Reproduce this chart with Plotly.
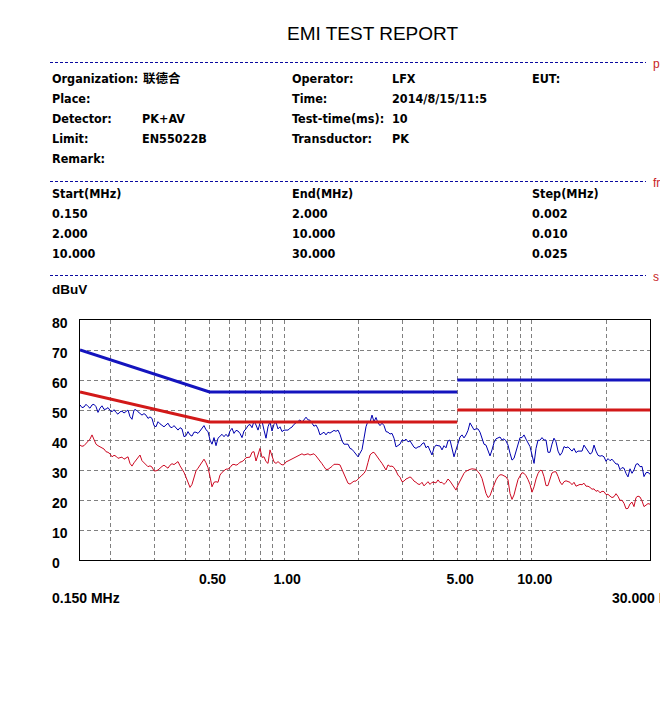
import plotly.graph_objects as go

# ---------------- data ----------------
freq_mhz = [
    0.150, 0.1528, 0.1557, 0.1586, 0.1616, 0.1646, 0.1677, 0.1708, 0.1741, 0.1773,
    0.1806, 0.1840, 0.1875, 0.1910, 0.1946, 0.1982, 0.2020, 0.2058, 0.2096, 0.2135,
    0.2176, 0.2216, 0.2258, 0.2300, 0.2344, 0.2387, 0.2432, 0.2478, 0.2524, 0.2572,
    0.2620, 0.2669, 0.2719, 0.2770, 0.2822, 0.2875, 0.2929, 0.2984, 0.3040, 0.3097,
    0.3155, 0.3215, 0.3275, 0.3336, 0.3399, 0.3463, 0.3528, 0.3594, 0.3661, 0.3730,
    0.3800, 0.3871, 0.3944, 0.4018, 0.4093, 0.4170, 0.4248, 0.4328, 0.4409, 0.4492,
    0.4576, 0.4662, 0.4750, 0.4839, 0.4930, 0.5022, 0.5116, 0.5212, 0.5310, 0.5410,
    0.5511, 0.5615, 0.5720, 0.5828, 0.5937, 0.6048, 0.6162, 0.6277, 0.6395, 0.6515,
    0.6637, 0.6762, 0.6889, 0.7018, 0.7150, 0.7284, 0.7421, 0.7560, 0.7702, 0.7846,
    0.7994, 0.8144, 0.8296, 0.8452, 0.8611, 0.8772, 0.8937, 0.9104, 0.9275, 0.9449,
    0.9627, 0.9807, 0.9991, 1.018, 1.037, 1.056, 1.076, 1.096, 1.117, 1.138,
    1.159, 1.181, 1.203, 1.226, 1.249, 1.272, 1.296, 1.320, 1.345, 1.371,
    1.396, 1.422, 1.449, 1.476, 1.504, 1.532, 1.561, 1.590, 1.620, 1.651,
    1.681, 1.713, 1.745, 1.778, 1.811, 1.845, 1.880, 1.915, 1.951, 1.988,
    2.025, 2.063, 2.102, 2.141, 2.181, 2.222, 2.264, 2.306, 2.350, 2.394,
    2.439, 2.485, 2.531, 2.579, 2.627, 2.676, 2.727, 2.778, 2.830, 2.883,
    2.937, 2.992, 3.048, 3.105, 3.164, 3.223, 3.284, 3.345, 3.408, 3.472,
    3.537, 3.603, 3.671, 3.740, 3.810, 3.882, 3.954, 4.029, 4.104, 4.181,
    4.260, 4.340, 4.421, 4.504, 4.589, 4.675, 4.762, 4.852, 4.943, 5.036,
    5.130, 5.226, 5.324, 5.424, 5.526, 5.630, 5.735, 5.843, 5.953, 6.064,
    6.178, 6.294, 6.412, 6.533, 6.655, 6.780, 6.907, 7.037, 7.169, 7.303,
    7.440, 7.580, 7.722, 7.867, 8.015, 8.165, 8.318, 8.475, 8.634, 8.796,
    8.961, 9.129, 9.300, 9.475, 9.652, 9.834, 10.02, 10.21, 10.40, 10.59,
    10.79, 10.99, 11.20, 11.41, 11.62, 11.84, 12.06, 12.29, 12.52, 12.76,
    13.00, 13.24, 13.49, 13.74, 14.00, 14.26, 14.53, 14.80, 15.08, 15.36,
    15.65, 15.95, 16.24, 16.55, 16.86, 17.18, 17.50, 17.83, 18.16, 18.50,
    18.85, 19.20, 19.56, 19.93, 20.30, 20.69, 21.07, 21.47, 21.87, 22.28,
    22.70, 23.13, 23.56, 24.00, 24.45, 24.91, 25.38, 25.85, 26.34, 26.83,
    27.34, 27.85, 28.37, 28.91, 29.45, 30.00,
]

peak_dbuv = [
    51.7, 50.8, 51.0, 51.9, 51.2, 50.6, 51.7, 51.9, 51.1, 49.2,
    50.6, 51.4, 50.2, 50.3, 50.8, 49.9, 49.4, 50.1, 49.2, 48.6,
    49.4, 49.6, 49.0, 49.4, 50.0, 47.8, 46.9, 50.0, 50.1, 49.4,
    48.7, 48.3, 48.8, 48.3, 47.2, 47.7, 47.2, 44.8, 44.4, 46.1,
    45.4, 44.8, 44.4, 45.0, 45.6, 44.4, 44.1, 44.8, 43.9, 43.3,
    44.1, 43.7, 41.1, 41.4, 42.8, 41.7, 41.3, 42.6, 42.6, 42.2,
    43.0, 43.9, 44.8, 43.4, 42.8, 40.0, 38.6, 40.8, 38.1, 40.6,
    41.4, 41.9, 41.1, 41.9, 41.1, 43.0, 43.9, 42.2, 43.2, 43.0,
    42.2, 40.8, 43.0, 43.7, 44.8, 45.2, 44.1, 46.3, 45.0, 43.3,
    45.6, 46.3, 43.3, 40.6, 44.4, 46.1, 43.0, 45.2, 45.9, 43.7,
    44.4, 42.8, 43.3, 43.2, 43.3, 43.9, 44.3, 45.2, 45.7, 46.1,
    46.7, 45.9, 46.7, 47.6, 46.7, 46.6, 45.6, 44.6, 45.0, 43.7,
    41.7, 42.3, 42.6, 41.7, 42.6, 42.3, 42.8, 43.2, 42.9, 43.3,
    41.9, 39.7, 38.6, 38.7, 38.6, 37.2, 36.9, 36.1, 35.4, 34.4,
    35.6, 36.8, 40.6, 44.4, 46.3, 45.9, 48.3, 46.1, 47.5, 45.7,
    44.8, 45.6, 44.8, 42.8, 42.6, 42.0, 42.2, 40.6, 37.7, 38.3,
    38.6, 40.0, 39.7, 40.3, 39.4, 39.7, 38.8, 37.6, 37.2, 37.7,
    37.8, 38.7, 39.1, 37.4, 38.0, 36.3, 35.0, 37.4, 38.3, 38.1,
    38.0, 36.7, 38.1, 37.4, 39.7, 40.0, 36.7, 34.4, 36.7, 39.2,
    41.0, 41.7, 40.7, 41.7, 43.2, 45.7, 44.4, 43.4, 43.7, 43.7,
    42.6, 40.6, 38.6, 38.3, 36.1, 34.7, 36.7, 39.1, 40.4, 40.8,
    41.0, 40.0, 40.4, 39.7, 38.3, 35.6, 33.3, 33.9, 36.3, 38.9,
    40.8, 40.8, 41.7, 40.3, 39.2, 37.8, 35.0, 32.2, 37.2, 39.9,
    39.9, 40.8, 40.0, 40.0, 35.9, 35.9, 38.6, 40.6, 39.4, 36.3,
    34.9, 35.8, 37.8, 37.4, 37.7, 37.0, 36.3, 37.2, 35.8, 36.3,
    36.3, 36.3, 38.3, 37.4, 36.3, 35.3, 35.8, 38.3, 36.3, 34.9,
    34.6, 34.8, 34.4, 32.9, 33.8, 33.1, 33.6, 32.8, 32.0, 32.0,
    30.1, 30.8, 30.6, 28.9, 27.7, 30.4, 28.9, 30.0, 31.9, 32.1,
    31.1, 31.2, 27.8, 29.1, 29.2, 28.6,
]

avg_dbuv = [
    38.3, 37.9, 38.1, 38.8, 39.4, 40.3, 41.7, 40.0, 38.6, 38.1,
    37.8, 37.4, 37.0, 36.1, 35.9, 35.4, 34.4, 34.9, 34.6, 33.9,
    34.2, 34.3, 33.6, 33.9, 34.4, 32.2, 31.3, 32.4, 33.3, 33.9,
    35.0, 33.1, 32.4, 32.0, 31.1, 31.4, 31.0, 29.7, 29.7, 30.0,
    30.7, 31.2, 31.6, 31.2, 30.6, 31.6, 32.1, 31.8, 32.2, 32.8,
    31.4, 30.3, 29.2, 27.6, 25.6, 24.2, 25.2, 27.8, 29.7, 30.6,
    31.6, 32.6, 33.6, 32.4, 30.8, 27.8, 24.4, 25.9, 26.1, 25.9,
    28.3, 29.2, 29.7, 30.3, 30.3, 30.8, 31.7, 31.9, 31.6, 31.9,
    32.6, 32.8, 33.3, 34.1, 34.2, 34.3, 35.9, 36.1, 33.0, 35.0,
    37.2, 34.2, 34.4, 32.8, 32.2, 36.7, 34.7, 32.7, 32.2, 32.8,
    32.2, 31.7, 31.8, 32.7, 33.0, 33.3, 33.7, 34.0, 34.3, 34.7,
    35.0, 35.4, 35.0, 35.2, 35.4, 35.0, 35.3, 35.4, 34.7, 33.9,
    33.0, 32.1, 31.1, 30.2, 30.2, 30.6, 31.2, 31.9, 32.0, 31.9,
    31.7, 30.3, 28.9, 27.2, 25.6, 25.3, 25.9, 26.3, 26.3, 27.1,
    27.6, 28.3, 28.9, 30.0, 32.5, 35.0, 35.7, 35.9, 35.0, 33.8,
    33.1, 32.2, 31.0, 30.0, 31.7, 31.2, 31.3, 30.8, 29.7, 28.3,
    27.6, 26.1, 26.3, 27.0, 27.3, 27.7, 27.2, 26.3, 25.9, 25.3,
    25.2, 25.9, 24.7, 25.6, 26.1, 25.2, 25.9, 25.9, 25.7, 26.7,
    25.8, 25.9, 25.2, 25.9, 27.0, 26.3, 25.2, 24.2, 23.3, 25.0,
    26.4, 27.9, 28.9, 29.6, 30.0, 30.2, 30.4, 30.4, 30.2, 29.4,
    28.6, 27.2, 24.8, 22.2, 20.8, 21.4, 23.3, 25.4, 26.7, 27.8,
    28.4, 28.4, 28.1, 27.7, 26.7, 22.2, 20.2, 21.7, 24.3, 26.8,
    28.0, 29.1, 28.9, 28.1, 26.8, 25.2, 22.6, 24.4, 27.0, 28.8,
    29.9, 29.8, 27.8, 24.8, 24.8, 27.4, 29.0, 29.4, 29.4, 27.9,
    26.0, 25.1, 26.1, 26.4, 26.1, 25.9, 25.1, 25.9, 24.6, 25.0,
    25.2, 25.1, 25.6, 24.6, 24.6, 24.2, 23.6, 23.7, 22.9, 23.2,
    22.4, 22.9, 22.8, 21.8, 21.9, 21.3, 20.8, 21.1, 22.1, 21.2,
    19.9, 19.9, 18.9, 17.1, 17.2, 18.7, 19.3, 17.8, 20.8, 21.3,
    21.0, 19.7, 17.8, 18.3, 18.8, 18.6,
]

limit_freq_mhz = [0.15, 0.5, 5.0, None, 5.0, 30.0]
qp_limit_dbuv = [70, 56, 56, None, 60, 60]
av_limit_dbuv = [56, 46, 46, None, 50, 50]

y_tick_vals = [0, 10, 20, 30, 40, 50, 60, 70, 80]
x_grid_vals = [0.2, 0.3, 0.4, 0.5, 0.6, 0.7, 0.8, 0.9, 1, 2, 3, 4, 5, 6, 7, 8, 9, 10, 20]
x_grid_text = ["", "", "", "0.50", "", "", "", "", "1.00", "", "", "", "5.00",
               "", "", "", "", "10.00", ""]

title_text = "EMI TEST REPORT"
info_col1 = [("Organization:", "联德合"), ("Place:", ""), ("Detector:", "PK+AV"),
             ("Limit:", "EN55022B"), ("Remark:", "")]
info_col2 = [("Operator:", "LFX"), ("Time:", "2014/8/15/11:5"), ("Test-time(ms):", "10"),
             ("Transductor:", "PK")]
info_col3 = [("EUT:", "")]
sweep_header = ["Start(MHz)", "End(MHz)", "Step(MHz)"]
sweep_start = ["0.150", "2.000", "10.000"]
sweep_end = ["2.000", "10.000", "30.000"]
sweep_step = ["0.002", "0.010", "0.025"]
section_tags = ["p", "fr", "s"]

# ---------------- layout helpers ----------------
W, H = 660, 704
ML, MR, MT, MB = 80, 10, 320, 144
PW, PH = W - ML - MR, H - MT - MB


def px(x):
    return (x - ML) / PW


def py(y):
    return (H - MB - y) / PH


INFO_FONT = dict(family="DejaVu Sans Condensed, DejaVu Sans, Noto Sans CJK SC",
                 size=12.5, color="black", weight="bold")
AX_FONT = dict(family="Liberation Sans, Arial, sans-serif", size=14, color="black",
               weight="bold")

fig = go.Figure()

fig.add_trace(go.Scatter(x=freq_mhz, y=peak_dbuv, mode="lines",
                         line=dict(color="rgb(0,0,175)", width=1), hoverinfo="skip"))
fig.add_trace(go.Scatter(x=freq_mhz, y=avg_dbuv, mode="lines",
                         line=dict(color="rgb(205,10,35)", width=1), hoverinfo="skip"))
fig.add_trace(go.Scatter(x=limit_freq_mhz, y=qp_limit_dbuv, mode="lines",
                         line=dict(color="rgb(20,20,190)", width=3), hoverinfo="skip"))
fig.add_trace(go.Scatter(x=limit_freq_mhz, y=av_limit_dbuv, mode="lines",
                         line=dict(color="rgb(210,25,25)", width=3), hoverinfo="skip"))

ann = []
ann.append(dict(text=title_text, x=px(372.5), y=py(33), xref="paper", yref="paper",
                xanchor="center", yanchor="middle", showarrow=False,
                font=dict(family="Liberation Sans, Arial, sans-serif", size=19, color="black")))


def txt(s, x, y, font=INFO_FONT):
    if s:
        ann.append(dict(text=s, x=px(x), y=py(y), xref="paper", yref="paper",
                        xanchor="left", yanchor="middle", showarrow=False, font=font))


row_y = [78, 98, 118, 138, 158]
for i, (lab, val) in enumerate(info_col1):
    txt(lab, 50, row_y[i])
    txt(val, 141 if i == 0 else 140, row_y[i])
for i, (lab, val) in enumerate(info_col2):
    txt(lab, 290, row_y[i])
    txt(val, 390, row_y[i])
for i, (lab, val) in enumerate(info_col3):
    txt(lab, 530, row_y[i])

for s, x in zip(sweep_header, [50, 290, 530]):
    txt(s, x, 193)
for j in range(3):
    txt(sweep_start[j], 50, 213 + 20 * j)
    txt(sweep_end[j], 290, 213 + 20 * j)
    txt(sweep_step[j], 530, 213 + 20 * j)

txt("dBuV", 50, 289, dict(AX_FONT, size=13.5))

shapes = []
for tag, y in zip(section_tags, [62, 181, 275]):
    shapes.append(dict(type="line", xref="paper", yref="paper", x0=px(50), x1=px(646),
                       y0=py(y + 0.5), y1=py(y + 0.5),
                       line=dict(color="rgb(10,10,160)", width=1, dash="3px,2px")))
    ann.append(dict(text=tag, x=px(651), y=py(y + 2), xref="paper", yref="paper",
                    xanchor="left", yanchor="middle", showarrow=False,
                    font=dict(family="Liberation Sans, Arial", size=12, color="rgb(200,30,30)")))

for v in y_tick_vals:
    ann.append(dict(text=str(v), x=px(50), y=v, xref="paper", yref="y",
                    xanchor="left", yanchor="middle", yshift=-3, showarrow=False,
                    font=AX_FONT))

ann.append(dict(text="0.150 MHz", x=px(50), y=py(598), xref="paper", yref="paper",
                xanchor="left", yanchor="middle", showarrow=False, font=AX_FONT))
ann.append(dict(text="30.000 MHz", x=px(610), y=py(598), xref="paper", yref="paper",
                xanchor="left", yanchor="middle", showarrow=False, font=AX_FONT))

fig.update_layout(
    width=W, height=H,
    margin=dict(l=ML, r=MR, t=MT, b=MB, pad=0),
    paper_bgcolor="white", plot_bgcolor="white",
    showlegend=False,
    annotations=ann, shapes=shapes,
    xaxis=dict(type="log", range=[-0.823909, 1.477121],
               tickvals=x_grid_vals, ticktext=x_grid_text, ticks="",
               tickfont=AX_FONT, ticklabelshift=3, ticklabelstandoff=6,
               showgrid=True, gridcolor="rgb(128,128,128)", gridwidth=1, griddash="4px,3px",
               showline=True, linecolor="black", linewidth=1, mirror=True,
               zeroline=False, fixedrange=True),
    yaxis=dict(range=[0, 80], tickvals=y_tick_vals, showticklabels=False, ticks="",
               showgrid=True, gridcolor="rgb(128,128,128)", gridwidth=1, griddash="4px,3px",
               showline=True, linecolor="black", linewidth=1, mirror=True,
               zeroline=False, fixedrange=True),
)

fig.write_html("out.html", config={"displayModeBar": False},
               post_script="document.body.style.margin='0px';document.body.style.overflow='hidden';")
